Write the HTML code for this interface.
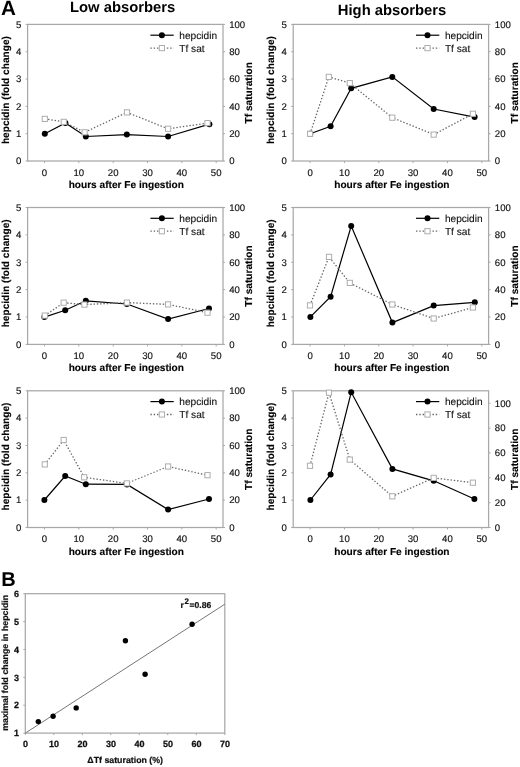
<!DOCTYPE html>
<html><head><meta charset="utf-8"><title>Figure</title>
<style>
html,body{margin:0;padding:0;background:#fff;}
body{width:520px;height:767px;overflow:hidden;}
svg{display:block;will-change:transform;filter:blur(0.35px);}
text{font-family:"Liberation Sans", sans-serif;fill:#111;text-rendering:geometricPrecision;}
.big{font-size:20px;font-weight:bold;fill:#000;}
.ttl{font-size:14.8px;font-weight:bold;fill:#000;}
.at{font-size:10.15px;font-weight:bold;fill:#000;stroke:#000;stroke-width:0.12px;}
.tk{font-size:9.6px;fill:#111;stroke:#111;stroke-width:0.15px;}
.lg{font-size:10.15px;fill:#111;stroke:#111;stroke-width:0.12px;}
.tkb{font-size:9px;font-weight:bold;fill:#111;stroke:#111;stroke-width:0.25px;}
.atb{font-size:8.8px;font-weight:bold;fill:#111;stroke:#111;stroke-width:0.2px;}
.r2{font-size:8.6px;font-weight:bold;fill:#111;stroke:#111;stroke-width:0.2px;}
</style></head>
<body>
<svg width="520" height="767" viewBox="0 0 520 767">
<rect width="520" height="767" fill="#fff"/>
<text x="1.1" y="15.4" class="big" style="font-size:20.6px">A</text>
<text x="70.0" y="12.2" class="ttl">Low absorbers</text>
<text x="337.8" y="14.6" class="ttl">High absorbers</text>
<rect x="27.6" y="24.4" width="195.4" height="136.6" fill="none" stroke="#a8a8a8" stroke-width="1.25"/>
<line x1="25.6" y1="161" x2="27.6" y2="161" stroke="#a8a8a8" stroke-width="1"/>
<text x="21.3" y="164.3" class="tk" text-anchor="end">0</text>
<line x1="25.6" y1="133.68" x2="27.6" y2="133.68" stroke="#a8a8a8" stroke-width="1"/>
<text x="21.3" y="136.98" class="tk" text-anchor="end">1</text>
<line x1="25.6" y1="106.36" x2="27.6" y2="106.36" stroke="#a8a8a8" stroke-width="1"/>
<text x="21.3" y="109.66" class="tk" text-anchor="end">2</text>
<line x1="25.6" y1="79.04" x2="27.6" y2="79.04" stroke="#a8a8a8" stroke-width="1"/>
<text x="21.3" y="82.34" class="tk" text-anchor="end">3</text>
<line x1="25.6" y1="51.72" x2="27.6" y2="51.72" stroke="#a8a8a8" stroke-width="1"/>
<text x="21.3" y="55.02" class="tk" text-anchor="end">4</text>
<line x1="25.6" y1="24.4" x2="27.6" y2="24.4" stroke="#a8a8a8" stroke-width="1"/>
<text x="21.3" y="27.7" class="tk" text-anchor="end">5</text>
<line x1="223" y1="161" x2="225" y2="161" stroke="#a8a8a8" stroke-width="1"/>
<text x="229.2" y="164.3" class="tk">0</text>
<line x1="223" y1="133.68" x2="225" y2="133.68" stroke="#a8a8a8" stroke-width="1"/>
<text x="229.2" y="136.98" class="tk">20</text>
<line x1="223" y1="106.36" x2="225" y2="106.36" stroke="#a8a8a8" stroke-width="1"/>
<text x="229.2" y="109.66" class="tk">40</text>
<line x1="223" y1="79.04" x2="225" y2="79.04" stroke="#a8a8a8" stroke-width="1"/>
<text x="229.2" y="82.34" class="tk">60</text>
<line x1="223" y1="51.72" x2="225" y2="51.72" stroke="#a8a8a8" stroke-width="1"/>
<text x="229.2" y="55.02" class="tk">80</text>
<line x1="223" y1="24.4" x2="225" y2="24.4" stroke="#a8a8a8" stroke-width="1"/>
<text x="229.2" y="27.7" class="tk">100</text>
<line x1="44.5" y1="161" x2="44.5" y2="163" stroke="#a8a8a8" stroke-width="1"/>
<text x="44.5" y="175.8" class="tk" text-anchor="middle">0</text>
<line x1="78.84" y1="161" x2="78.84" y2="163" stroke="#a8a8a8" stroke-width="1"/>
<text x="78.84" y="175.8" class="tk" text-anchor="middle">10</text>
<line x1="113.18" y1="161" x2="113.18" y2="163" stroke="#a8a8a8" stroke-width="1"/>
<text x="113.18" y="175.8" class="tk" text-anchor="middle">20</text>
<line x1="147.52" y1="161" x2="147.52" y2="163" stroke="#a8a8a8" stroke-width="1"/>
<text x="147.52" y="175.8" class="tk" text-anchor="middle">30</text>
<line x1="181.86" y1="161" x2="181.86" y2="163" stroke="#a8a8a8" stroke-width="1"/>
<text x="181.86" y="175.8" class="tk" text-anchor="middle">40</text>
<line x1="216.2" y1="161" x2="216.2" y2="163" stroke="#a8a8a8" stroke-width="1"/>
<text x="216.2" y="175.8" class="tk" text-anchor="middle">50</text>
<text x="126.3" y="188" class="at" text-anchor="middle">hours after Fe ingestion</text>
<text transform="translate(8.8,90.1) rotate(-90)" class="at" text-anchor="middle">hepcidin (fold change)</text>
<text transform="translate(252.2,92.8) rotate(-90)" class="at" text-anchor="middle">Tf saturation</text>
<line x1="150.4" y1="35.2" x2="173.7" y2="35.2" stroke="#000" stroke-width="1.2"/>
<circle cx="161.9" cy="35.2" r="3" fill="#000"/>
<text x="179.3" y="38.7" class="lg">hepcidin</text>
<line x1="150.4" y1="48.1" x2="173.7" y2="48.1" stroke="#666666" stroke-width="1.3" stroke-dasharray="1.4 1.9"/>
<rect x="159.3" y="45.5" width="5.2" height="5.2" fill="#fff" stroke="#adadad" stroke-width="1"/>
<text x="179.3" y="52" class="lg">Tf sat</text>
<polyline points="44.8,133.7 65.4,122.9 85.8,136.5 126.8,134.6 168.1,136.5 209.4,124.2" fill="none" stroke="#000" stroke-width="1.2"/>
<circle cx="44.8" cy="133.7" r="3" fill="#000"/>
<circle cx="65.4" cy="122.9" r="3" fill="#000"/>
<circle cx="85.8" cy="136.5" r="3" fill="#000"/>
<circle cx="126.8" cy="134.6" r="3" fill="#000"/>
<circle cx="168.1" cy="136.5" r="3" fill="#000"/>
<circle cx="209.4" cy="124.2" r="3" fill="#000"/>
<polyline points="44.8,118.9 63.8,121.9 84.6,132.3 127,112.4 168.1,128.8 207.5,123.1" fill="none" stroke="#666666" stroke-width="1.3" stroke-dasharray="1.4 1.9"/>
<rect x="42.2" y="116.3" width="5.2" height="5.2" fill="#fff" stroke="#adadad" stroke-width="1"/>
<rect x="61.2" y="119.3" width="5.2" height="5.2" fill="#fff" stroke="#adadad" stroke-width="1"/>
<rect x="82" y="129.7" width="5.2" height="5.2" fill="#fff" stroke="#adadad" stroke-width="1"/>
<rect x="124.4" y="109.8" width="5.2" height="5.2" fill="#fff" stroke="#adadad" stroke-width="1"/>
<rect x="165.5" y="126.2" width="5.2" height="5.2" fill="#fff" stroke="#adadad" stroke-width="1"/>
<rect x="204.9" y="120.5" width="5.2" height="5.2" fill="#fff" stroke="#adadad" stroke-width="1"/>
<rect x="293.2" y="24.4" width="195.4" height="136.6" fill="none" stroke="#a8a8a8" stroke-width="1.25"/>
<line x1="291.2" y1="161" x2="293.2" y2="161" stroke="#a8a8a8" stroke-width="1"/>
<text x="286.9" y="164.3" class="tk" text-anchor="end">0</text>
<line x1="291.2" y1="133.68" x2="293.2" y2="133.68" stroke="#a8a8a8" stroke-width="1"/>
<text x="286.9" y="136.98" class="tk" text-anchor="end">1</text>
<line x1="291.2" y1="106.36" x2="293.2" y2="106.36" stroke="#a8a8a8" stroke-width="1"/>
<text x="286.9" y="109.66" class="tk" text-anchor="end">2</text>
<line x1="291.2" y1="79.04" x2="293.2" y2="79.04" stroke="#a8a8a8" stroke-width="1"/>
<text x="286.9" y="82.34" class="tk" text-anchor="end">3</text>
<line x1="291.2" y1="51.72" x2="293.2" y2="51.72" stroke="#a8a8a8" stroke-width="1"/>
<text x="286.9" y="55.02" class="tk" text-anchor="end">4</text>
<line x1="291.2" y1="24.4" x2="293.2" y2="24.4" stroke="#a8a8a8" stroke-width="1"/>
<text x="286.9" y="27.7" class="tk" text-anchor="end">5</text>
<line x1="488.6" y1="161" x2="490.6" y2="161" stroke="#a8a8a8" stroke-width="1"/>
<text x="494.8" y="164.3" class="tk">0</text>
<line x1="488.6" y1="133.68" x2="490.6" y2="133.68" stroke="#a8a8a8" stroke-width="1"/>
<text x="494.8" y="136.98" class="tk">20</text>
<line x1="488.6" y1="106.36" x2="490.6" y2="106.36" stroke="#a8a8a8" stroke-width="1"/>
<text x="494.8" y="109.66" class="tk">40</text>
<line x1="488.6" y1="79.04" x2="490.6" y2="79.04" stroke="#a8a8a8" stroke-width="1"/>
<text x="494.8" y="82.34" class="tk">60</text>
<line x1="488.6" y1="51.72" x2="490.6" y2="51.72" stroke="#a8a8a8" stroke-width="1"/>
<text x="494.8" y="55.02" class="tk">80</text>
<line x1="488.6" y1="24.4" x2="490.6" y2="24.4" stroke="#a8a8a8" stroke-width="1"/>
<text x="494.8" y="27.7" class="tk">100</text>
<line x1="310.1" y1="161" x2="310.1" y2="163" stroke="#a8a8a8" stroke-width="1"/>
<text x="310.1" y="175.8" class="tk" text-anchor="middle">0</text>
<line x1="344.44" y1="161" x2="344.44" y2="163" stroke="#a8a8a8" stroke-width="1"/>
<text x="344.44" y="175.8" class="tk" text-anchor="middle">10</text>
<line x1="378.78" y1="161" x2="378.78" y2="163" stroke="#a8a8a8" stroke-width="1"/>
<text x="378.78" y="175.8" class="tk" text-anchor="middle">20</text>
<line x1="413.12" y1="161" x2="413.12" y2="163" stroke="#a8a8a8" stroke-width="1"/>
<text x="413.12" y="175.8" class="tk" text-anchor="middle">30</text>
<line x1="447.46" y1="161" x2="447.46" y2="163" stroke="#a8a8a8" stroke-width="1"/>
<text x="447.46" y="175.8" class="tk" text-anchor="middle">40</text>
<line x1="481.8" y1="161" x2="481.8" y2="163" stroke="#a8a8a8" stroke-width="1"/>
<text x="481.8" y="175.8" class="tk" text-anchor="middle">50</text>
<text x="391.9" y="188" class="at" text-anchor="middle">hours after Fe ingestion</text>
<text transform="translate(274.4,90.1) rotate(-90)" class="at" text-anchor="middle">hepcidin (fold change)</text>
<text transform="translate(517.8,92.8) rotate(-90)" class="at" text-anchor="middle">Tf saturation</text>
<line x1="416" y1="35.2" x2="439.3" y2="35.2" stroke="#000" stroke-width="1.2"/>
<circle cx="427.5" cy="35.2" r="3" fill="#000"/>
<text x="444.9" y="38.7" class="lg">hepcidin</text>
<line x1="416" y1="48.1" x2="439.3" y2="48.1" stroke="#666666" stroke-width="1.3" stroke-dasharray="1.4 1.9"/>
<rect x="424.9" y="45.5" width="5.2" height="5.2" fill="#fff" stroke="#adadad" stroke-width="1"/>
<text x="444.9" y="52" class="lg">Tf sat</text>
<polyline points="310.2,133.7 330.6,126.3 351.2,88.3 392.3,76.9 433.7,109 474.6,117.1" fill="none" stroke="#000" stroke-width="1.2"/>
<circle cx="310.2" cy="133.7" r="3" fill="#000"/>
<circle cx="330.6" cy="126.3" r="3" fill="#000"/>
<circle cx="351.2" cy="88.3" r="3" fill="#000"/>
<circle cx="392.3" cy="76.9" r="3" fill="#000"/>
<circle cx="433.7" cy="109" r="3" fill="#000"/>
<circle cx="474.6" cy="117.1" r="3" fill="#000"/>
<polyline points="310.1,133.8 328.8,76.9 349.8,83.1 392.3,117.7 433.7,134.6 472.9,113.8" fill="none" stroke="#666666" stroke-width="1.3" stroke-dasharray="1.4 1.9"/>
<rect x="307.5" y="131.2" width="5.2" height="5.2" fill="#fff" stroke="#adadad" stroke-width="1"/>
<rect x="326.2" y="74.3" width="5.2" height="5.2" fill="#fff" stroke="#adadad" stroke-width="1"/>
<rect x="347.2" y="80.5" width="5.2" height="5.2" fill="#fff" stroke="#adadad" stroke-width="1"/>
<rect x="389.7" y="115.1" width="5.2" height="5.2" fill="#fff" stroke="#adadad" stroke-width="1"/>
<rect x="431.1" y="132" width="5.2" height="5.2" fill="#fff" stroke="#adadad" stroke-width="1"/>
<rect x="470.3" y="111.2" width="5.2" height="5.2" fill="#fff" stroke="#adadad" stroke-width="1"/>
<rect x="27.6" y="207.5" width="195.4" height="136.9" fill="none" stroke="#a8a8a8" stroke-width="1.25"/>
<line x1="25.6" y1="344.4" x2="27.6" y2="344.4" stroke="#a8a8a8" stroke-width="1"/>
<text x="21.3" y="347.7" class="tk" text-anchor="end">0</text>
<line x1="25.6" y1="317.02" x2="27.6" y2="317.02" stroke="#a8a8a8" stroke-width="1"/>
<text x="21.3" y="320.32" class="tk" text-anchor="end">1</text>
<line x1="25.6" y1="289.64" x2="27.6" y2="289.64" stroke="#a8a8a8" stroke-width="1"/>
<text x="21.3" y="292.94" class="tk" text-anchor="end">2</text>
<line x1="25.6" y1="262.26" x2="27.6" y2="262.26" stroke="#a8a8a8" stroke-width="1"/>
<text x="21.3" y="265.56" class="tk" text-anchor="end">3</text>
<line x1="25.6" y1="234.88" x2="27.6" y2="234.88" stroke="#a8a8a8" stroke-width="1"/>
<text x="21.3" y="238.18" class="tk" text-anchor="end">4</text>
<line x1="25.6" y1="207.5" x2="27.6" y2="207.5" stroke="#a8a8a8" stroke-width="1"/>
<text x="21.3" y="210.8" class="tk" text-anchor="end">5</text>
<line x1="223" y1="344.4" x2="225" y2="344.4" stroke="#a8a8a8" stroke-width="1"/>
<text x="229.2" y="347.7" class="tk">0</text>
<line x1="223" y1="317.02" x2="225" y2="317.02" stroke="#a8a8a8" stroke-width="1"/>
<text x="229.2" y="320.32" class="tk">20</text>
<line x1="223" y1="289.64" x2="225" y2="289.64" stroke="#a8a8a8" stroke-width="1"/>
<text x="229.2" y="292.94" class="tk">40</text>
<line x1="223" y1="262.26" x2="225" y2="262.26" stroke="#a8a8a8" stroke-width="1"/>
<text x="229.2" y="265.56" class="tk">60</text>
<line x1="223" y1="234.88" x2="225" y2="234.88" stroke="#a8a8a8" stroke-width="1"/>
<text x="229.2" y="238.18" class="tk">80</text>
<line x1="223" y1="207.5" x2="225" y2="207.5" stroke="#a8a8a8" stroke-width="1"/>
<text x="229.2" y="210.8" class="tk">100</text>
<line x1="44.5" y1="344.4" x2="44.5" y2="346.4" stroke="#a8a8a8" stroke-width="1"/>
<text x="44.5" y="359.2" class="tk" text-anchor="middle">0</text>
<line x1="78.84" y1="344.4" x2="78.84" y2="346.4" stroke="#a8a8a8" stroke-width="1"/>
<text x="78.84" y="359.2" class="tk" text-anchor="middle">10</text>
<line x1="113.18" y1="344.4" x2="113.18" y2="346.4" stroke="#a8a8a8" stroke-width="1"/>
<text x="113.18" y="359.2" class="tk" text-anchor="middle">20</text>
<line x1="147.52" y1="344.4" x2="147.52" y2="346.4" stroke="#a8a8a8" stroke-width="1"/>
<text x="147.52" y="359.2" class="tk" text-anchor="middle">30</text>
<line x1="181.86" y1="344.4" x2="181.86" y2="346.4" stroke="#a8a8a8" stroke-width="1"/>
<text x="181.86" y="359.2" class="tk" text-anchor="middle">40</text>
<line x1="216.2" y1="344.4" x2="216.2" y2="346.4" stroke="#a8a8a8" stroke-width="1"/>
<text x="216.2" y="359.2" class="tk" text-anchor="middle">50</text>
<text x="126.3" y="371.4" class="at" text-anchor="middle">hours after Fe ingestion</text>
<text transform="translate(8.8,273.35) rotate(-90)" class="at" text-anchor="middle">hepcidin (fold change)</text>
<text transform="translate(252.2,276.05) rotate(-90)" class="at" text-anchor="middle">Tf saturation</text>
<line x1="150.4" y1="218.3" x2="173.7" y2="218.3" stroke="#000" stroke-width="1.2"/>
<circle cx="161.9" cy="218.3" r="3" fill="#000"/>
<text x="179.3" y="221.8" class="lg">hepcidin</text>
<line x1="150.4" y1="231.2" x2="173.7" y2="231.2" stroke="#666666" stroke-width="1.3" stroke-dasharray="1.4 1.9"/>
<rect x="159.3" y="228.6" width="5.2" height="5.2" fill="#fff" stroke="#adadad" stroke-width="1"/>
<text x="179.3" y="235.1" class="lg">Tf sat</text>
<polyline points="44.4,317.1 65.2,310.2 85.8,300.8 126.9,304 168.1,319 209,308.5" fill="none" stroke="#000" stroke-width="1.2"/>
<circle cx="44.4" cy="317.1" r="3" fill="#000"/>
<circle cx="65.2" cy="310.2" r="3" fill="#000"/>
<circle cx="85.8" cy="300.8" r="3" fill="#000"/>
<circle cx="126.9" cy="304" r="3" fill="#000"/>
<circle cx="168.1" cy="319" r="3" fill="#000"/>
<circle cx="209" cy="308.5" r="3" fill="#000"/>
<polyline points="44.8,315.6 63.7,302.7 84.4,304.6 126.9,302.6 168.1,304.4 207.5,312.7" fill="none" stroke="#666666" stroke-width="1.3" stroke-dasharray="1.4 1.9"/>
<rect x="42.2" y="313" width="5.2" height="5.2" fill="#fff" stroke="#adadad" stroke-width="1"/>
<rect x="61.1" y="300.1" width="5.2" height="5.2" fill="#fff" stroke="#adadad" stroke-width="1"/>
<rect x="81.8" y="302" width="5.2" height="5.2" fill="#fff" stroke="#adadad" stroke-width="1"/>
<rect x="124.3" y="300" width="5.2" height="5.2" fill="#fff" stroke="#adadad" stroke-width="1"/>
<rect x="165.5" y="301.8" width="5.2" height="5.2" fill="#fff" stroke="#adadad" stroke-width="1"/>
<rect x="204.9" y="310.1" width="5.2" height="5.2" fill="#fff" stroke="#adadad" stroke-width="1"/>
<rect x="293.2" y="207.5" width="195.4" height="136.9" fill="none" stroke="#a8a8a8" stroke-width="1.25"/>
<line x1="291.2" y1="344.4" x2="293.2" y2="344.4" stroke="#a8a8a8" stroke-width="1"/>
<text x="286.9" y="347.7" class="tk" text-anchor="end">0</text>
<line x1="291.2" y1="317.02" x2="293.2" y2="317.02" stroke="#a8a8a8" stroke-width="1"/>
<text x="286.9" y="320.32" class="tk" text-anchor="end">1</text>
<line x1="291.2" y1="289.64" x2="293.2" y2="289.64" stroke="#a8a8a8" stroke-width="1"/>
<text x="286.9" y="292.94" class="tk" text-anchor="end">2</text>
<line x1="291.2" y1="262.26" x2="293.2" y2="262.26" stroke="#a8a8a8" stroke-width="1"/>
<text x="286.9" y="265.56" class="tk" text-anchor="end">3</text>
<line x1="291.2" y1="234.88" x2="293.2" y2="234.88" stroke="#a8a8a8" stroke-width="1"/>
<text x="286.9" y="238.18" class="tk" text-anchor="end">4</text>
<line x1="291.2" y1="207.5" x2="293.2" y2="207.5" stroke="#a8a8a8" stroke-width="1"/>
<text x="286.9" y="210.8" class="tk" text-anchor="end">5</text>
<line x1="488.6" y1="344.4" x2="490.6" y2="344.4" stroke="#a8a8a8" stroke-width="1"/>
<text x="494.8" y="347.7" class="tk">0</text>
<line x1="488.6" y1="317.02" x2="490.6" y2="317.02" stroke="#a8a8a8" stroke-width="1"/>
<text x="494.8" y="320.32" class="tk">20</text>
<line x1="488.6" y1="289.64" x2="490.6" y2="289.64" stroke="#a8a8a8" stroke-width="1"/>
<text x="494.8" y="292.94" class="tk">40</text>
<line x1="488.6" y1="262.26" x2="490.6" y2="262.26" stroke="#a8a8a8" stroke-width="1"/>
<text x="494.8" y="265.56" class="tk">60</text>
<line x1="488.6" y1="234.88" x2="490.6" y2="234.88" stroke="#a8a8a8" stroke-width="1"/>
<text x="494.8" y="238.18" class="tk">80</text>
<line x1="488.6" y1="207.5" x2="490.6" y2="207.5" stroke="#a8a8a8" stroke-width="1"/>
<text x="494.8" y="210.8" class="tk">100</text>
<line x1="310.1" y1="344.4" x2="310.1" y2="346.4" stroke="#a8a8a8" stroke-width="1"/>
<text x="310.1" y="359.2" class="tk" text-anchor="middle">0</text>
<line x1="344.44" y1="344.4" x2="344.44" y2="346.4" stroke="#a8a8a8" stroke-width="1"/>
<text x="344.44" y="359.2" class="tk" text-anchor="middle">10</text>
<line x1="378.78" y1="344.4" x2="378.78" y2="346.4" stroke="#a8a8a8" stroke-width="1"/>
<text x="378.78" y="359.2" class="tk" text-anchor="middle">20</text>
<line x1="413.12" y1="344.4" x2="413.12" y2="346.4" stroke="#a8a8a8" stroke-width="1"/>
<text x="413.12" y="359.2" class="tk" text-anchor="middle">30</text>
<line x1="447.46" y1="344.4" x2="447.46" y2="346.4" stroke="#a8a8a8" stroke-width="1"/>
<text x="447.46" y="359.2" class="tk" text-anchor="middle">40</text>
<line x1="481.8" y1="344.4" x2="481.8" y2="346.4" stroke="#a8a8a8" stroke-width="1"/>
<text x="481.8" y="359.2" class="tk" text-anchor="middle">50</text>
<text x="391.9" y="371.4" class="at" text-anchor="middle">hours after Fe ingestion</text>
<text transform="translate(274.4,273.35) rotate(-90)" class="at" text-anchor="middle">hepcidin (fold change)</text>
<text transform="translate(517.8,276.05) rotate(-90)" class="at" text-anchor="middle">Tf saturation</text>
<line x1="416" y1="218.3" x2="439.3" y2="218.3" stroke="#000" stroke-width="1.2"/>
<circle cx="427.5" cy="218.3" r="3" fill="#000"/>
<text x="444.9" y="221.8" class="lg">hepcidin</text>
<line x1="416" y1="231.2" x2="439.3" y2="231.2" stroke="#666666" stroke-width="1.3" stroke-dasharray="1.4 1.9"/>
<rect x="424.9" y="228.6" width="5.2" height="5.2" fill="#fff" stroke="#adadad" stroke-width="1"/>
<text x="444.9" y="235.1" class="lg">Tf sat</text>
<polyline points="310.4,316.9 330.6,296.7 351.2,226 392.4,322.6 433.7,305.6 474.8,302.3" fill="none" stroke="#000" stroke-width="1.2"/>
<circle cx="310.4" cy="316.9" r="3" fill="#000"/>
<circle cx="330.6" cy="296.7" r="3" fill="#000"/>
<circle cx="351.2" cy="226" r="3" fill="#000"/>
<circle cx="392.4" cy="322.6" r="3" fill="#000"/>
<circle cx="433.7" cy="305.6" r="3" fill="#000"/>
<circle cx="474.8" cy="302.3" r="3" fill="#000"/>
<polyline points="310,305.4 329,256.9 349.8,282.9 392.3,304.5 433.7,318.5 472.9,307.5" fill="none" stroke="#666666" stroke-width="1.3" stroke-dasharray="1.4 1.9"/>
<rect x="307.4" y="302.8" width="5.2" height="5.2" fill="#fff" stroke="#adadad" stroke-width="1"/>
<rect x="326.4" y="254.3" width="5.2" height="5.2" fill="#fff" stroke="#adadad" stroke-width="1"/>
<rect x="347.2" y="280.3" width="5.2" height="5.2" fill="#fff" stroke="#adadad" stroke-width="1"/>
<rect x="389.7" y="301.9" width="5.2" height="5.2" fill="#fff" stroke="#adadad" stroke-width="1"/>
<rect x="431.1" y="315.9" width="5.2" height="5.2" fill="#fff" stroke="#adadad" stroke-width="1"/>
<rect x="470.3" y="304.9" width="5.2" height="5.2" fill="#fff" stroke="#adadad" stroke-width="1"/>
<rect x="27.6" y="390.8" width="195.4" height="136.7" fill="none" stroke="#a8a8a8" stroke-width="1.25"/>
<line x1="25.6" y1="527.5" x2="27.6" y2="527.5" stroke="#a8a8a8" stroke-width="1"/>
<text x="21.3" y="530.8" class="tk" text-anchor="end">0</text>
<line x1="25.6" y1="500.16" x2="27.6" y2="500.16" stroke="#a8a8a8" stroke-width="1"/>
<text x="21.3" y="503.46" class="tk" text-anchor="end">1</text>
<line x1="25.6" y1="472.82" x2="27.6" y2="472.82" stroke="#a8a8a8" stroke-width="1"/>
<text x="21.3" y="476.12" class="tk" text-anchor="end">2</text>
<line x1="25.6" y1="445.48" x2="27.6" y2="445.48" stroke="#a8a8a8" stroke-width="1"/>
<text x="21.3" y="448.78" class="tk" text-anchor="end">3</text>
<line x1="25.6" y1="418.14" x2="27.6" y2="418.14" stroke="#a8a8a8" stroke-width="1"/>
<text x="21.3" y="421.44" class="tk" text-anchor="end">4</text>
<line x1="25.6" y1="390.8" x2="27.6" y2="390.8" stroke="#a8a8a8" stroke-width="1"/>
<text x="21.3" y="394.1" class="tk" text-anchor="end">5</text>
<line x1="223" y1="527.5" x2="225" y2="527.5" stroke="#a8a8a8" stroke-width="1"/>
<text x="229.2" y="530.8" class="tk">0</text>
<line x1="223" y1="500.16" x2="225" y2="500.16" stroke="#a8a8a8" stroke-width="1"/>
<text x="229.2" y="503.46" class="tk">20</text>
<line x1="223" y1="472.82" x2="225" y2="472.82" stroke="#a8a8a8" stroke-width="1"/>
<text x="229.2" y="476.12" class="tk">40</text>
<line x1="223" y1="445.48" x2="225" y2="445.48" stroke="#a8a8a8" stroke-width="1"/>
<text x="229.2" y="448.78" class="tk">60</text>
<line x1="223" y1="418.14" x2="225" y2="418.14" stroke="#a8a8a8" stroke-width="1"/>
<text x="229.2" y="421.44" class="tk">80</text>
<line x1="223" y1="390.8" x2="225" y2="390.8" stroke="#a8a8a8" stroke-width="1"/>
<text x="229.2" y="394.1" class="tk">100</text>
<line x1="44.5" y1="527.5" x2="44.5" y2="529.5" stroke="#a8a8a8" stroke-width="1"/>
<text x="44.5" y="542.3" class="tk" text-anchor="middle">0</text>
<line x1="78.84" y1="527.5" x2="78.84" y2="529.5" stroke="#a8a8a8" stroke-width="1"/>
<text x="78.84" y="542.3" class="tk" text-anchor="middle">10</text>
<line x1="113.18" y1="527.5" x2="113.18" y2="529.5" stroke="#a8a8a8" stroke-width="1"/>
<text x="113.18" y="542.3" class="tk" text-anchor="middle">20</text>
<line x1="147.52" y1="527.5" x2="147.52" y2="529.5" stroke="#a8a8a8" stroke-width="1"/>
<text x="147.52" y="542.3" class="tk" text-anchor="middle">30</text>
<line x1="181.86" y1="527.5" x2="181.86" y2="529.5" stroke="#a8a8a8" stroke-width="1"/>
<text x="181.86" y="542.3" class="tk" text-anchor="middle">40</text>
<line x1="216.2" y1="527.5" x2="216.2" y2="529.5" stroke="#a8a8a8" stroke-width="1"/>
<text x="216.2" y="542.3" class="tk" text-anchor="middle">50</text>
<text x="126.3" y="554.5" class="at" text-anchor="middle">hours after Fe ingestion</text>
<text transform="translate(8.8,456.55) rotate(-90)" class="at" text-anchor="middle">hepcidin (fold change)</text>
<text transform="translate(252.2,459.25) rotate(-90)" class="at" text-anchor="middle">Tf saturation</text>
<line x1="150.4" y1="401.6" x2="173.7" y2="401.6" stroke="#000" stroke-width="1.2"/>
<circle cx="161.9" cy="401.6" r="3" fill="#000"/>
<text x="179.3" y="405.1" class="lg">hepcidin</text>
<line x1="150.4" y1="414.5" x2="173.7" y2="414.5" stroke="#666666" stroke-width="1.3" stroke-dasharray="1.4 1.9"/>
<rect x="159.3" y="411.9" width="5.2" height="5.2" fill="#fff" stroke="#adadad" stroke-width="1"/>
<text x="179.3" y="418.4" class="lg">Tf sat</text>
<polyline points="44.4,500 65.2,476 85.8,484.2 127,484.4 168.1,509.6 209,499" fill="none" stroke="#000" stroke-width="1.2"/>
<circle cx="44.4" cy="500" r="3" fill="#000"/>
<circle cx="65.2" cy="476" r="3" fill="#000"/>
<circle cx="85.8" cy="484.2" r="3" fill="#000"/>
<circle cx="127" cy="484.4" r="3" fill="#000"/>
<circle cx="168.1" cy="509.6" r="3" fill="#000"/>
<circle cx="209" cy="499" r="3" fill="#000"/>
<polyline points="44.8,464.4 63.7,440 84.2,477.3 126.8,483.4 168.1,466.5 207.5,475.2" fill="none" stroke="#666666" stroke-width="1.3" stroke-dasharray="1.4 1.9"/>
<rect x="42.2" y="461.8" width="5.2" height="5.2" fill="#fff" stroke="#adadad" stroke-width="1"/>
<rect x="61.1" y="437.4" width="5.2" height="5.2" fill="#fff" stroke="#adadad" stroke-width="1"/>
<rect x="81.6" y="474.7" width="5.2" height="5.2" fill="#fff" stroke="#adadad" stroke-width="1"/>
<rect x="124.2" y="480.8" width="5.2" height="5.2" fill="#fff" stroke="#adadad" stroke-width="1"/>
<rect x="165.5" y="463.9" width="5.2" height="5.2" fill="#fff" stroke="#adadad" stroke-width="1"/>
<rect x="204.9" y="472.6" width="5.2" height="5.2" fill="#fff" stroke="#adadad" stroke-width="1"/>
<rect x="293.2" y="390.8" width="195.4" height="136.7" fill="none" stroke="#a8a8a8" stroke-width="1.25"/>
<line x1="291.2" y1="527.5" x2="293.2" y2="527.5" stroke="#a8a8a8" stroke-width="1"/>
<text x="286.9" y="530.8" class="tk" text-anchor="end">0</text>
<line x1="291.2" y1="500.16" x2="293.2" y2="500.16" stroke="#a8a8a8" stroke-width="1"/>
<text x="286.9" y="503.46" class="tk" text-anchor="end">1</text>
<line x1="291.2" y1="472.82" x2="293.2" y2="472.82" stroke="#a8a8a8" stroke-width="1"/>
<text x="286.9" y="476.12" class="tk" text-anchor="end">2</text>
<line x1="291.2" y1="445.48" x2="293.2" y2="445.48" stroke="#a8a8a8" stroke-width="1"/>
<text x="286.9" y="448.78" class="tk" text-anchor="end">3</text>
<line x1="291.2" y1="418.14" x2="293.2" y2="418.14" stroke="#a8a8a8" stroke-width="1"/>
<text x="286.9" y="421.44" class="tk" text-anchor="end">4</text>
<line x1="291.2" y1="390.8" x2="293.2" y2="390.8" stroke="#a8a8a8" stroke-width="1"/>
<text x="286.9" y="394.1" class="tk" text-anchor="end">5</text>
<line x1="488.6" y1="527.5" x2="490.6" y2="527.5" stroke="#a8a8a8" stroke-width="1"/>
<text x="494.8" y="530.8" class="tk">0</text>
<line x1="488.6" y1="502.65" x2="490.6" y2="502.65" stroke="#a8a8a8" stroke-width="1"/>
<text x="494.8" y="505.95" class="tk">20</text>
<line x1="488.6" y1="477.79" x2="490.6" y2="477.79" stroke="#a8a8a8" stroke-width="1"/>
<text x="494.8" y="481.09" class="tk">40</text>
<line x1="488.6" y1="452.94" x2="490.6" y2="452.94" stroke="#a8a8a8" stroke-width="1"/>
<text x="494.8" y="456.24" class="tk">60</text>
<line x1="488.6" y1="428.08" x2="490.6" y2="428.08" stroke="#a8a8a8" stroke-width="1"/>
<text x="494.8" y="431.38" class="tk">80</text>
<line x1="488.6" y1="403.23" x2="490.6" y2="403.23" stroke="#a8a8a8" stroke-width="1"/>
<text x="494.8" y="406.53" class="tk">100</text>
<line x1="310.1" y1="527.5" x2="310.1" y2="529.5" stroke="#a8a8a8" stroke-width="1"/>
<text x="310.1" y="542.3" class="tk" text-anchor="middle">0</text>
<line x1="344.44" y1="527.5" x2="344.44" y2="529.5" stroke="#a8a8a8" stroke-width="1"/>
<text x="344.44" y="542.3" class="tk" text-anchor="middle">10</text>
<line x1="378.78" y1="527.5" x2="378.78" y2="529.5" stroke="#a8a8a8" stroke-width="1"/>
<text x="378.78" y="542.3" class="tk" text-anchor="middle">20</text>
<line x1="413.12" y1="527.5" x2="413.12" y2="529.5" stroke="#a8a8a8" stroke-width="1"/>
<text x="413.12" y="542.3" class="tk" text-anchor="middle">30</text>
<line x1="447.46" y1="527.5" x2="447.46" y2="529.5" stroke="#a8a8a8" stroke-width="1"/>
<text x="447.46" y="542.3" class="tk" text-anchor="middle">40</text>
<line x1="481.8" y1="527.5" x2="481.8" y2="529.5" stroke="#a8a8a8" stroke-width="1"/>
<text x="481.8" y="542.3" class="tk" text-anchor="middle">50</text>
<text x="391.9" y="554.5" class="at" text-anchor="middle">hours after Fe ingestion</text>
<text transform="translate(274.4,456.55) rotate(-90)" class="at" text-anchor="middle">hepcidin (fold change)</text>
<text transform="translate(517.8,459.25) rotate(-90)" class="at" text-anchor="middle">Tf saturation</text>
<line x1="416" y1="401.6" x2="439.3" y2="401.6" stroke="#000" stroke-width="1.2"/>
<circle cx="427.5" cy="401.6" r="3" fill="#000"/>
<text x="444.9" y="405.1" class="lg">hepcidin</text>
<line x1="416" y1="414.5" x2="439.3" y2="414.5" stroke="#666666" stroke-width="1.3" stroke-dasharray="1.4 1.9"/>
<rect x="424.9" y="411.9" width="5.2" height="5.2" fill="#fff" stroke="#adadad" stroke-width="1"/>
<text x="444.9" y="418.4" class="lg">Tf sat</text>
<polyline points="310.4,500 330.6,474.4 351.2,392.3 392.4,468.9 433.7,480.8 474.4,499" fill="none" stroke="#000" stroke-width="1.2"/>
<circle cx="310.4" cy="500" r="3" fill="#000"/>
<circle cx="330.6" cy="474.4" r="3" fill="#000"/>
<circle cx="351.2" cy="392.3" r="3" fill="#000"/>
<circle cx="392.4" cy="468.9" r="3" fill="#000"/>
<circle cx="433.7" cy="480.8" r="3" fill="#000"/>
<circle cx="474.4" cy="499" r="3" fill="#000"/>
<polyline points="310,465.8 329,392.7 349.8,459.6 392.3,496.3 433.7,477.9 472.9,482.7" fill="none" stroke="#666666" stroke-width="1.3" stroke-dasharray="1.4 1.9"/>
<rect x="307.4" y="463.2" width="5.2" height="5.2" fill="#fff" stroke="#adadad" stroke-width="1"/>
<rect x="326.4" y="390.1" width="5.2" height="5.2" fill="#fff" stroke="#adadad" stroke-width="1"/>
<rect x="347.2" y="457" width="5.2" height="5.2" fill="#fff" stroke="#adadad" stroke-width="1"/>
<rect x="389.7" y="493.7" width="5.2" height="5.2" fill="#fff" stroke="#adadad" stroke-width="1"/>
<rect x="431.1" y="475.3" width="5.2" height="5.2" fill="#fff" stroke="#adadad" stroke-width="1"/>
<rect x="470.3" y="480.1" width="5.2" height="5.2" fill="#fff" stroke="#adadad" stroke-width="1"/>
<text x="1.2" y="585.6" class="big">B</text>
<rect x="25.3" y="593.7" width="199.5" height="139.4" fill="none" stroke="#a8a8a8" stroke-width="1.25"/>
<line x1="23.3" y1="733.1" x2="25.3" y2="733.1" stroke="#a8a8a8" stroke-width="1"/>
<text x="19.1" y="736.3" class="tkb" text-anchor="end">1</text>
<line x1="23.3" y1="705.22" x2="25.3" y2="705.22" stroke="#a8a8a8" stroke-width="1"/>
<text x="19.1" y="708.42" class="tkb" text-anchor="end">2</text>
<line x1="23.3" y1="677.34" x2="25.3" y2="677.34" stroke="#a8a8a8" stroke-width="1"/>
<text x="19.1" y="680.54" class="tkb" text-anchor="end">3</text>
<line x1="23.3" y1="649.46" x2="25.3" y2="649.46" stroke="#a8a8a8" stroke-width="1"/>
<text x="19.1" y="652.66" class="tkb" text-anchor="end">4</text>
<line x1="23.3" y1="621.58" x2="25.3" y2="621.58" stroke="#a8a8a8" stroke-width="1"/>
<text x="19.1" y="624.78" class="tkb" text-anchor="end">5</text>
<line x1="23.3" y1="593.7" x2="25.3" y2="593.7" stroke="#a8a8a8" stroke-width="1"/>
<text x="19.1" y="596.9" class="tkb" text-anchor="end">6</text>
<line x1="25.3" y1="733.1" x2="25.3" y2="735.1" stroke="#a8a8a8" stroke-width="1"/>
<text x="25.5" y="747" class="tkb" text-anchor="middle">0</text>
<line x1="53.8" y1="733.1" x2="53.8" y2="735.1" stroke="#a8a8a8" stroke-width="1"/>
<text x="54" y="747" class="tkb" text-anchor="middle">10</text>
<line x1="82.3" y1="733.1" x2="82.3" y2="735.1" stroke="#a8a8a8" stroke-width="1"/>
<text x="82.5" y="747" class="tkb" text-anchor="middle">20</text>
<line x1="110.8" y1="733.1" x2="110.8" y2="735.1" stroke="#a8a8a8" stroke-width="1"/>
<text x="111" y="747" class="tkb" text-anchor="middle">30</text>
<line x1="139.3" y1="733.1" x2="139.3" y2="735.1" stroke="#a8a8a8" stroke-width="1"/>
<text x="139.5" y="747" class="tkb" text-anchor="middle">40</text>
<line x1="167.8" y1="733.1" x2="167.8" y2="735.1" stroke="#a8a8a8" stroke-width="1"/>
<text x="168" y="747" class="tkb" text-anchor="middle">50</text>
<line x1="196.3" y1="733.1" x2="196.3" y2="735.1" stroke="#a8a8a8" stroke-width="1"/>
<text x="196.5" y="747" class="tkb" text-anchor="middle">60</text>
<line x1="224.8" y1="733.1" x2="224.8" y2="735.1" stroke="#a8a8a8" stroke-width="1"/>
<text x="225" y="747" class="tkb" text-anchor="middle">70</text>
<line x1="25.3" y1="733.1" x2="224.8" y2="604.2" stroke="#777" stroke-width="1"/>
<circle cx="38.3" cy="721.6" r="2.7" fill="#000"/>
<circle cx="53.1" cy="716.3" r="2.7" fill="#000"/>
<circle cx="76.2" cy="707.9" r="2.7" fill="#000"/>
<circle cx="125.4" cy="640.8" r="2.7" fill="#000"/>
<circle cx="145.1" cy="674.3" r="2.7" fill="#000"/>
<circle cx="192.1" cy="624.3" r="2.7" fill="#000"/>
<text x="180.6" y="607.5" class="r2">r<tspan dx="0.6" dy="-4" font-size="8">2</tspan><tspan dx="0.5" dy="4">=0.86</tspan></text>
<text transform="translate(8.4,662.85) rotate(-90)" class="atb" text-anchor="middle">maximal fold change in hepcidin</text>
<text x="125.2" y="763.2" class="atb" text-anchor="middle">ΔTf saturation (%)</text>
</svg>
</body></html>
